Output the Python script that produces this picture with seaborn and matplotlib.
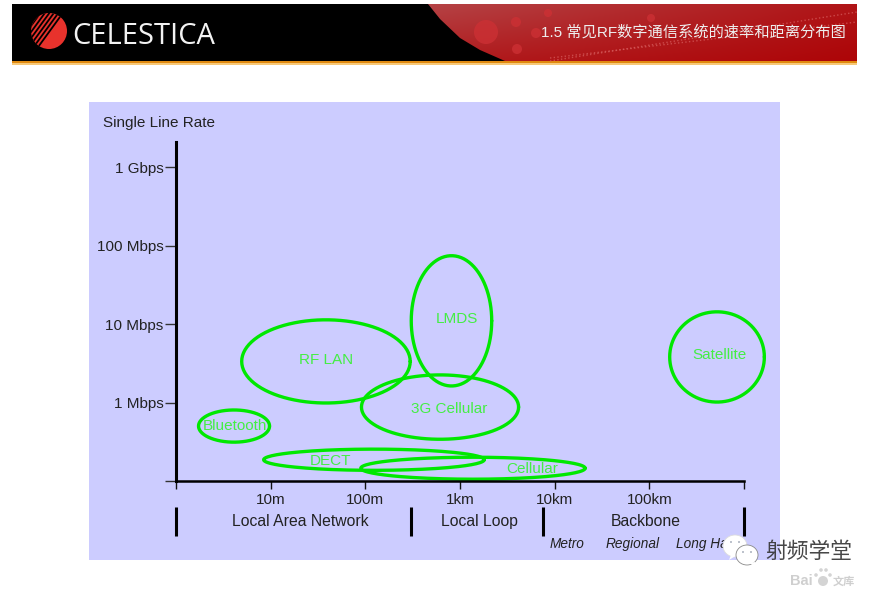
import numpy as np
import pandas as pd
import matplotlib
matplotlib.use("Agg")
import matplotlib.pyplot as plt
from matplotlib.patches import Rectangle, Circle, Polygon, Ellipse
import seaborn as sns

# axis values, in decades (x: metres, y: Mbps)
rate_ticks = [-1, 0, 1, 2, 3]
rate_labels = ["", "1 Mbps", "10 Mbps", "100 Mbps", "1 Gbps"]
dist_ticks = [0, 1, 2, 3, 4, 5, 6]
dist_labels = ["", "10m", "100m", "1km", "10km", "100km", ""]

# the technology ellipses
tech_names = ["RF LAN", "LMDS", "3G Cellular", "Bluetooth", "DECT", "Cellular", "Satellite"]
center_x = [1.584, 2.910, 2.789, 0.613, 2.091, 3.137, 5.715]
center_y = [0.524, 1.041, -0.058, -0.300, -0.729, -0.837, 0.581]
span_x = [1.78, 0.85, 1.66, 0.75, 2.33, 2.37, 1.00]
span_y = [1.06, 1.66, 0.82, 0.41, 0.27, 0.28, 1.15]
label_x = [1.59, 2.97, 2.885, 0.623, 1.627, 3.76, 5.746]
label_y = [0.545, 1.07, -0.077, -0.294, -0.741, -0.843, 0.601]

# the bands under the axis
band_edges = [0, 2.48, 3.88, 6]
band_names = ["Local Area Network", "Local Loop", "Backbone"]
band_centers = [1.31, 3.21, 4.96]
sub_names = ["Metro", "Regional", "Long Haul"]
sub_centers = [4.13, 4.82, 5.61]

sns.set_theme(style="white")
plt.rcParams["font.family"] = ["Liberation Sans", "Noto Sans CJK SC", "DejaVu Sans"]

fig = plt.figure(figsize=(8.81, 5.91), dpi=100, facecolor="white")

# header and panel, drawn in pixels
bg = fig.add_axes([0, 0, 1, 1], zorder=0)
bg.set_xlim(0, 881)
bg.set_ylim(591, 0)
bg.axis("off")
bg.add_patch(Rectangle((89, 102), 691, 458, color="#ccccff", lw=0))
bg.add_patch(Rectangle((12, 4), 845, 57, color="#000000", lw=0))
bg.add_patch(Rectangle((12, 61), 845, 2, color="#e08a10", lw=0))
bg.add_patch(Rectangle((12, 63), 845, 2, color="#f7c878", lw=0))

red_edge = Polygon([(428, 4), (440, 19), (460, 38), (480, 50), (505, 61), (857, 61), (857, 4)],
                   transform=bg.transData, fc="none", ec="none")
bg.add_patch(red_edge)
gy, gx = np.mgrid[0:1:30j, 0:1:200j]
shade = np.clip(0.75 * (1 - gx) * (1 - 0.5 * gy) + 0.25 * (1 - gy), 0, 1)
rgb = np.dstack([0.68 + 0.03 * shade, 0.02 + 0.24 * shade, 0.03 + 0.24 * shade])
img = bg.imshow(rgb, extent=(428, 857, 61, 4), aspect="auto", zorder=1, interpolation="bilinear")
img.set_clip_path(red_edge)
bg.set_xlim(0, 881)
bg.set_ylim(591, 0)
for cx, cy, r in [(486, 32, 12), (516, 22, 5), (536, 33, 5), (517, 49, 5), (548, 13, 4), (651, 18, 4)]:
    spot = Circle((cx, cy), r, color="#cc3034", alpha=0.8, lw=0, zorder=2)
    bg.add_patch(spot)
    spot.set_clip_path(red_edge)
for y0, y1 in [(61, 20), (58, 30)]:
    bg.plot([550, 857], [y0, y1 - 8], color="#d86060", lw=1, ls=":", alpha=0.7, zorder=2)

# logo
sphere = Circle((49, 31), 18, color="#e8322c", lw=0, zorder=2)
bg.add_patch(sphere)
for off in np.arange(-30, 2, 4.5):
    stripe, = bg.plot([49 + off - 16, 49 + off + 16], [52, 8], color="black", lw=1.3, zorder=3)
    stripe.set_clip_path(sphere)
bg.text(72, 36, "CELESTICA", color="#f2f2f2", fontsize=21, family="Open Sans", ha="left", va="center", zorder=3)
bg.text(541, 32, "1.5 常见RF数字通信系统的速率和距离分布图", color="#eeeeee", fontsize=10.95, ha="left", va="center", zorder=3)

# chart
ax = fig.add_axes([176 / 881, (591 - 481) / 591, 568 / 881, 339 / 591], zorder=1)
ax.patch.set_alpha(0)
ax.set_xlim(0, 6)
ax.set_ylim(-1, 3.32)

for i, name in enumerate(tech_names):
    t = np.linspace(0, 2 * np.pi, 181)
    outline = pd.DataFrame({"x": center_x[i] + span_x[i] / 2 * np.cos(t),
                            "y": center_y[i] + span_y[i] / 2 * np.sin(t)})
    sns.lineplot(data=outline, x="x", y="y", sort=False, estimator=None, color="#00e800",
                 linewidth=2.4, ax=ax, clip_on=False)
    ax.text(label_x[i], label_y[i], name, color="#44ee44", fontsize=11, ha="center", va="center")

ax.set_xlabel("")
ax.set_ylabel("")
ax.set_xticks(dist_ticks)
ax.set_xticklabels(dist_labels, fontsize=11, color="#222222")
ax.set_yticks(rate_ticks)
ax.set_yticklabels(rate_labels, fontsize=11, color="#222222")
ax.tick_params(axis="x", length=6, width=1, color="#111111", pad=3, bottom=True)
ax.tick_params(axis="y", length=8, width=1, color="#333333", pad=1, left=True)
sns.despine(ax=ax)
ax.spines["left"].set_linewidth(2.2)
ax.spines["bottom"].set_linewidth(1.8)
ax.spines["left"].set_color("black")
ax.spines["bottom"].set_color("black")

ax.text(-0.77, 3.565, "Single Line Rate", fontsize=11, color="#222222", ha="left", va="center")

trans = ax.get_xaxis_transform()
ax.vlines(band_edges, -0.077, -0.163, transform=trans, color="black", lw=2.2, clip_on=False)
for name, x in zip(band_names, band_centers):
    ax.text(x, -0.119, name, transform=trans, fontsize=11.3, color="#222222", ha="center", va="center")
for name, x in zip(sub_names, sub_centers):
    ax.text(x, -0.187, name, transform=trans, fontsize=9.8, style="italic", color="#222222", ha="center", va="center")

# watermark on top
top = fig.add_axes([0, 0, 1, 1], zorder=2)
top.set_xlim(0, 881)
top.set_ylim(591, 0)
top.axis("off")
top.patch.set_alpha(0)
top.add_patch(Ellipse((735, 546), 24, 22, fc="white", ec="#dddddd", lw=0.6))
top.add_patch(Polygon([(731, 555), (737, 555), (729, 560)], fc="white", ec="none"))
top.add_patch(Ellipse((747, 555), 22, 20, fc="white", ec="#888888", lw=0.6))
top.add_patch(Polygon([(749, 563), (755, 562), (756, 567)], fc="white", ec="none"))
for x, y in [(743, 552), (751, 552), (731, 542), (739, 542)]:
    top.add_patch(Circle((x, y), 0.9, color="#99a0b0", lw=0))
top.text(765, 552, "射频学堂", fontsize=15.7, color="#333333", ha="left", va="center",
         family=["Noto Sans CJK SC", "DejaVu Sans"], alpha=0.9)
top.text(790, 581, "Bai", fontsize=10.5, color="#cfcfcf", weight="bold", ha="left", va="center")
top.text(833, 581, "文库", fontsize=8, color="#cfcfcf", weight="bold", ha="left", va="center",
         family=["Noto Sans CJK SC", "DejaVu Sans"])
for x, y, r in [(823, 581, 5), (816, 575, 1.8), (821, 570, 1.8), (826, 570, 1.8), (830, 575, 1.8)]:
    top.add_patch(Circle((x, y), r, fc="#d4d4d4", lw=0))

fig.savefig("out.png", dpi=100)
